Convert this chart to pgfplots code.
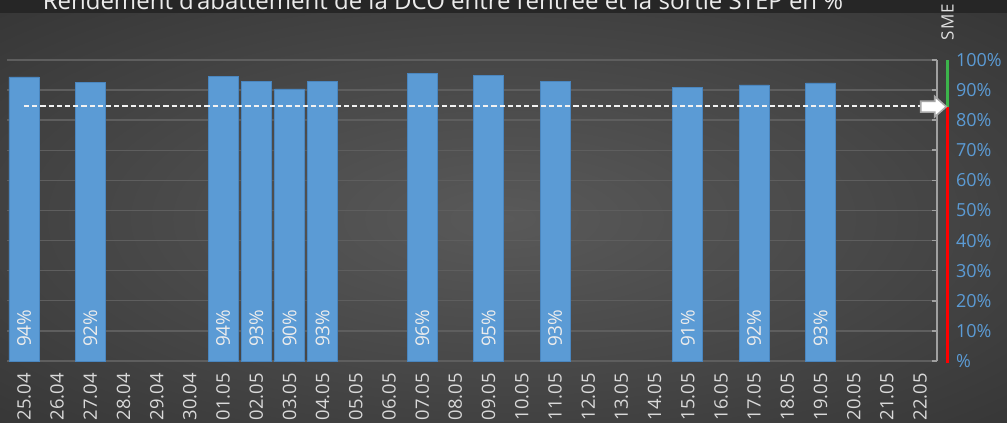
\documentclass[border=0pt]{standalone}
\usepackage{pgfplots}
\usepackage{pgfplotstable}
\pgfplotsset{compat=1.18}
\usepackage{fontspec}
\setmainfont{Open Sans}
\definecolor{barblue}{HTML}{5B9BD5}
\definecolor{baredge}{HTML}{4A86BF}
\definecolor{gridc}{HTML}{5E5E5E}
\definecolor{ticktxt}{HTML}{D9D9D9}
\definecolor{axgray}{HTML}{A0A0A0}
\definecolor{topband}{HTML}{262626}
\definecolor{bgc}{HTML}{595959}
\definecolor{bgm}{HTML}{484848}
\definecolor{bge}{HTML}{292929}
\definecolor{smegreen}{HTML}{3CB44B}
\pgfdeclareradialshading{bgshade}{\pgfpoint{0bp}{0bp}}{color(0bp)=(bgc);color(18bp)=(bgm);color(50bp)=(bge)}

\pgfplotstableread{
x  v     base lab
0  94.4  0    94
2  92.5  0    92
6  94.5  0    94
7  93.0  0    93
8  90.4  0    90
9  93.0  0    93
12 95.6  0    96
14 95.0  0    95
16 93.0  0    93
20 91.0  0    91
22 91.7  0    92
24 92.4  0    93
}\datatable

\begin{document}
\begin{tikzpicture}[x=1pt,y=1pt]
\useasboundingbox (0,0) rectangle (503.5,211.5);
\fill[topband] (0,0) rectangle (503.5,211.5);
\shade[shading=bgshade] (0,0) rectangle (503.5,204.5);
\begin{scope}
\clip (0,0) rectangle (503.5,211.5);
\node[anchor=base, inner sep=0pt, text=white!85!gray, font=\fontsize{12}{14}\selectfont] at (221.5,206.8) {Rendement d'abattement de la DCO entre l'entrée et la sortie STEP en \%};
\end{scope}
\node[rotate=90, inner sep=0pt, text=white!75!gray, font=\fontsize{8.5}{10}\selectfont] at (473.8,200.5) {S\kern0.5pt M\kern0.5pt E};
\begin{axis}[
  at={(3.7pt,31pt)}, anchor=south west,
  scale only axis, width=464.65pt, height=150.5pt,
  xmin=-0.5, xmax=27.5, ymin=0, ymax=100,
  clip=false,
  axis y line*=right, axis x line*=bottom,
  x axis line style={draw=none},
  y axis line style={draw=axgray, line width=0.8pt},
  xtick={0,...,27},
  xticklabels={25.04,26.04,27.04,28.04,29.04,30.04,01.05,02.05,03.05,04.05,05.05,06.05,07.05,08.05,09.05,10.05,11.05,12.05,13.05,14.05,15.05,16.05,17.05,18.05,19.05,20.05,21.05,22.05},
  xtick style={draw=none},
  xticklabel style={rotate=90, anchor=east, inner sep=0pt, text=ticktxt, font=\fontsize{9.2}{11}\selectfont},
  xticklabel shift=6pt,
  ytick={0,10,...,100},
  yticklabels={\%,10\%,20\%,30\%,40\%,50\%,60\%,70\%,80\%,90\%,100\%},
  ytick align=inside,
  major tick length=2.5pt,
  ytick style={draw=axgray, line width=0.8pt},
  yticklabel style={anchor=west, inner sep=0pt, text=barblue, font=\fontsize{9}{11}\selectfont},
  yticklabel shift=9.5pt,
  ymajorgrids,
  grid style={draw=gridc, line width=0.7pt},
]
\addplot[ybar, bar width=15pt, bar shift=0pt, fill=barblue, draw=baredge, line width=0.3pt] table[x=x, y=v] {\datatable};
\addplot[draw=none, mark=none,
  nodes near coords={\pgfplotspointmeta\%},
  point meta=explicit symbolic,
  every node near coord/.append style={rotate=90, anchor=west, inner xsep=6.8pt, inner ysep=0pt, text=white!85!gray, font=\fontsize{9.5}{11}\selectfont}]
  table[x=x, y=base, meta=lab] {\datatable};
\addplot[white!90!gray, line width=0.85pt, dash pattern=on 2.6pt off 1.5pt] coordinates {(0,84.7) (27.0,84.7)};
\addplot[red, line width=1.5pt] coordinates {(27.82,-0.7) (27.82,84.5)};
\addplot[smegreen, line width=1.5pt] coordinates {(27.82,84.5) (27.82,100)};
\draw[fill=white, draw=gray!70!white, line width=0.8pt]
  (axis cs:27.02,82.7) -- (axis cs:27.44,82.7) -- (axis cs:27.44,81.1) -- (axis cs:27.79,84.5)
  -- (axis cs:27.44,87.9) -- (axis cs:27.44,86.3) -- (axis cs:27.02,86.3) -- cycle;
\end{axis}
\end{tikzpicture}
\end{document}
